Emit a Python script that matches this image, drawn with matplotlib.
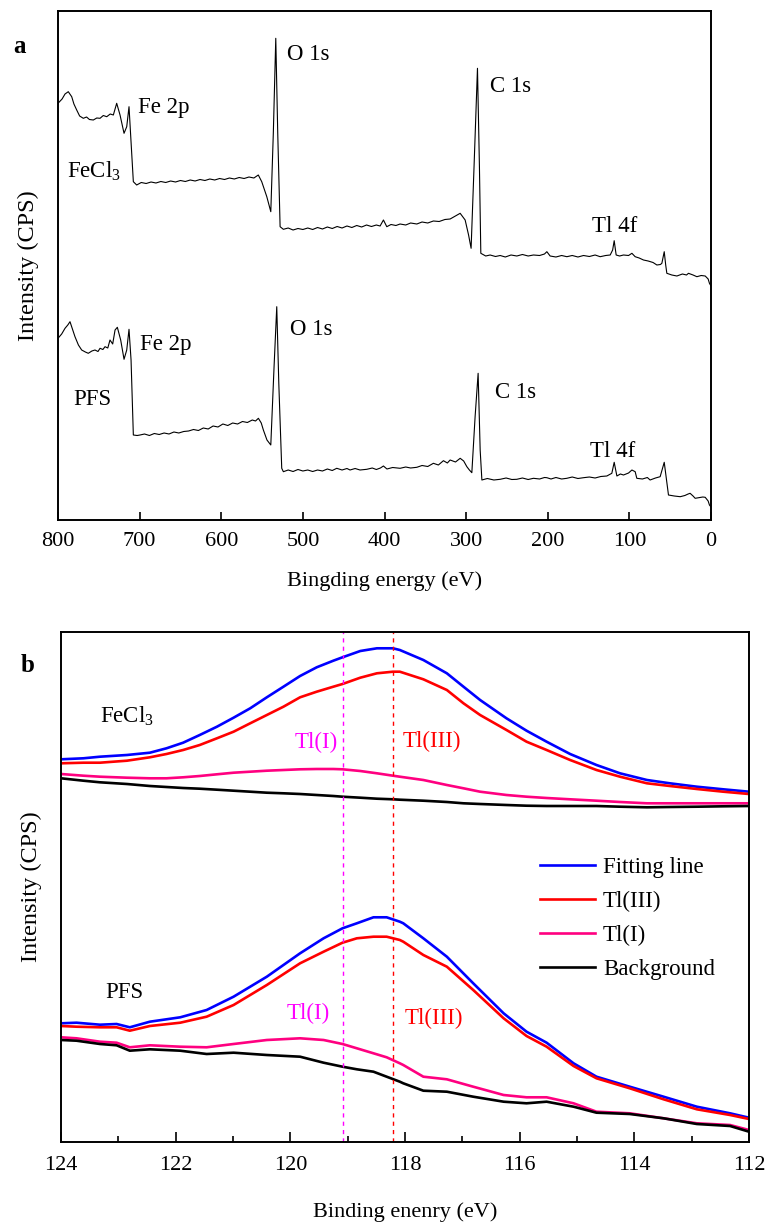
import matplotlib
matplotlib.use("Agg")
import matplotlib.pyplot as plt
from matplotlib.ticker import MultipleLocator

plt.rcParams['font.family'] = ['Liberation Serif', 'DejaVu Serif']
plt.rcParams['mathtext.fontset'] = 'custom'
plt.rcParams['mathtext.rm'] = 'Liberation Serif'
plt.rcParams['mathtext.it'] = 'Liberation Serif:italic'

# ---------------- Panel a: survey spectra ----------------
fecl3_ev = [800.0, 795.0, 791.4, 787.4, 783.2, 780.5, 777.1, 773.5, 769.0, 765.0, 761.5, 756.7,
            752.5, 748.5, 744.5, 740.3, 736.0, 732.2, 728.1, 724.0, 719.1, 715.8, 713.0, 710.5,
            707.7, 703.6, 698, 692, 686, 680, 674, 668, 662, 656, 650, 644, 638, 632, 626, 620,
            614, 608, 602, 596, 590, 584, 578, 572, 566, 560, 554.6, 550.4, 544.2, 539.3, 536.2,
            533.2, 530.8, 527.9, 523.9, 518, 512, 506, 500, 494, 488, 482, 476, 470, 464, 458,
            452, 446, 440, 434, 428, 422, 416, 410, 405.4, 401.3, 397.2, 392, 386, 380.9, 374,
            368, 360.4, 354, 347, 340.1, 333, 326, 319.6, 313, 307.3, 301.2, 297, 293.9, 290.3,
            286.1, 283.7, 282.0, 276, 270.6, 264, 258.3, 252, 245, 237.9, 231, 224, 217.5, 210,
            204, 201.1, 197.1, 190, 183, 176.6, 170, 163, 156.2, 149, 142, 135.8, 129, 123.5,
            120.5, 118.6, 116.2, 112, 107.2, 101, 96.9, 92.9, 88, 82.7, 77, 71, 66.3, 62, 60.2,
            57.3, 55.5, 54.1, 48, 41.8, 35, 30, 27.6, 22, 17.3, 12, 7.1, 3.5, 1.9, 0]
fecl3_int = [416.7, 421, 426, 428.3, 423.3, 416, 410, 404, 401.7, 403, 400.5, 400,
             402, 401.7, 404.5, 403.3, 406, 405, 416.7, 405, 386.7, 393.3, 413.3, 377,
             338.3, 335, 337.5, 336.5, 338, 337, 338.5, 337.5, 339, 338, 339.5, 338.5, 340, 339, 340.5, 339.5,
             341, 340, 341.5, 340.5, 342, 341, 342.5, 341.5, 343, 342, 345, 338.3, 323.3, 308.3, 387,
             481.7, 387, 293.3, 290.7, 292, 290, 291.5, 290.5, 292, 290.5, 292.5, 291, 293, 291.5, 293.5,
             292, 294, 292.5, 294.5, 293, 295, 293.5, 295, 294, 300, 293.3, 295.5, 294.5, 296, 295,
             297, 296, 298, 297, 299, 298.5, 300.5, 301, 304, 306.7, 300, 285, 271.7, 353.3,
             451.7, 353.3, 266.7, 264, 265, 263.5, 264.5, 263, 265, 264, 265.5, 264, 265, 264.5,
             266, 268.3, 264, 263, 264.5, 263.3, 264.5, 263, 264.5, 263.5, 265, 263.3, 264.5, 265,
             270, 279.3, 265, 264, 265, 264.5, 266.7, 263.3, 262, 260, 259, 257.5, 255, 255.5, 256.7,
             268.3, 255, 246.7, 245, 244, 246, 245, 246.7, 245, 243.3, 244.5, 244, 241, 236.7, 234]

pfs_ev = [800.0, 795.5, 791.4, 788, 785.3, 782, 779.2, 775, 771.0, 766.5, 762.9, 758.5, 754.7, 751,
          748.5, 745, 742.4, 739, 736.3, 733, 730.1, 727.3, 723.2, 719.1, 715.8, 713.0, 710.5, 707.7,
          703, 699.5, 694, 688, 682, 676, 670, 664, 658, 652, 646, 640, 634, 628, 622, 616, 610, 604,
          598, 592, 586, 580, 574, 568, 562, 558, 554.5, 551, 548.4, 544, 539.3, 535.3, 532.0, 529.5,
          525.9, 523.9, 518, 512, 506, 500, 494, 488, 482, 476, 470, 464, 458.5, 452, 446, 442.2, 436,
          430, 421.7, 415, 410, 405, 401.3, 397, 390, 380.9, 374, 368, 360.4, 354, 347, 340.1, 334,
          327.8, 323, 319.6, 313, 307.3, 303, 299.1, 296, 293.0, 289.0, 285.3, 282.8, 280.7, 274, 266,
          258.3, 251, 244, 237.9, 231, 224, 217.5, 210, 204, 201.1, 196, 190, 183, 176.6, 170, 163,
          156.2, 149, 142, 135, 127.6, 121.5, 118.6, 115.3, 111, 107.2, 101, 96.9, 92.9, 90.9, 84, 78,
          74.6, 68, 62.3, 57.3, 54.5, 52.1, 45, 37.7, 32, 28, 25.6, 22, 19.4, 14, 10, 7.1, 3.5, 1.9, 0]
pfs_int = [181.7, 186, 191.7, 195, 198.3, 190, 183.3, 175, 170, 168, 166.7, 169, 170, 168.5,
           171.7, 170.5, 173.3, 172, 180, 176, 190, 192.7, 180, 160.7, 170, 190.7, 160, 85,
           84.5, 85, 86, 84.5, 86.5, 85.5, 87, 86, 88, 87, 88.5, 89, 90.5, 89.5, 92, 91, 94, 93,
           96, 94.5, 97, 96, 98.5, 97.5, 100, 99, 101.7, 97, 90, 80, 75, 153.3, 213.3, 136.7,
           51.7, 48.3, 50, 48.5, 50.5, 49, 50, 48.5, 50, 49, 51, 49.5, 51.7, 50, 51.5, 50, 51.5,
           50, 50.7, 52, 50.5, 52, 54, 51, 52.5, 51.7, 53, 52, 52.7, 54.5, 53.5, 56.7, 55,
           59.3, 57, 60, 58, 61.7, 59, 53.3, 50, 47.3, 103.3, 146.7, 70, 40, 41.5, 40,
           40.7, 42, 40.5, 40.7, 42, 40.5, 41.7, 41, 42.5, 42.3, 41, 42.5, 41, 41.7, 43, 41.5,
           42.3, 43, 42, 43.5, 44, 46.7, 57.7, 44, 46, 45, 47, 50, 48.3, 41.7, 41, 42.5,
           40, 42, 43.3, 57.7, 40, 25, 24, 23.3, 24.5, 26, 26.7, 24, 21.7, 22.5, 23, 22.7, 19, 15, 13]

# ---------------- Panel b: Tl 4f high-resolution ----------------
fe_ev = [124.0, 123.61, 123.32, 122.85, 122.45, 122.16, 121.87, 121.58, 121.28, 120.99, 120.70,
         120.41, 120.12, 119.83, 119.54, 119.25, 119.09, 118.78, 118.49, 118.21,
         118.09, 117.68, 117.27, 116.98, 116.69, 116.23, 115.88, 115.53, 115.12, 114.66, 114.25,
         113.78, 113.38, 112.91, 112.45, 112.0]
fe_fit = [382.7, 383.7, 385.3, 387, 389.3, 393.7, 399.3, 407, 415.3, 424.3, 433.7, 444.7, 455.3,
          466, 474.7, 481.3, 484.7, 491, 493.7, 493.7,
          492, 482, 468.7, 455.3, 442, 423.7, 411.3, 400.3, 388, 377, 368.7, 362, 358.7, 355.3, 352.7, 350.3]
fe_tl3 = [378.7, 379.3, 379.3, 381.3, 384.7, 388, 392, 397, 403.7, 410.3, 418.7, 427, 435.3,
          444.7, 450.3, 455.3, 458, 464.3, 468.7, 470.3,
          470.3, 462.7, 452, 438.7, 427, 412, 400.3, 392, 382, 372, 365.3, 358.7, 356, 353, 350.3, 348]
fe_tl1 = [368, 366.3, 365.3, 364.3, 363.7, 363.7, 364.7, 366, 367.7, 369.3, 370.3, 371.3, 372,
          372.7, 373, 373, 372.7, 371, 368.7, 366.3,
          365.3, 362, 357, 353.7, 350.3, 347, 345.3, 344, 342.7, 341.3, 340, 338.7, 338.7, 338.7, 338.7, 338.7]
fe_bg = [363.7, 361.3, 359.7, 358, 356, 355, 354, 353.3, 352.3, 351.3, 350.3, 349.3, 348.7, 348,
         347, 346, 345.3, 344.3, 343.3, 342.7,
         342.3, 341.3, 340, 338.7, 338, 337, 336.3, 336, 336, 336, 335.3, 334.7, 335, 335.3, 335.7, 336]

pf_ev = [124.0, 123.73, 123.32, 123.03, 122.80, 122.45, 121.92, 121.46, 120.99, 120.41, 119.83,
         119.42, 119.09, 118.84, 118.55, 118.32, 118.09,
         118.03, 117.68, 117.27, 116.81, 116.28, 115.88, 115.53, 115.06, 114.66, 114.08, 113.49,
         112.91, 112.33, 112.0]
pf_fit = [118.7, 119.3, 117.3, 118, 114.7, 120.3, 124.7, 132, 145.3, 165.3, 188.7, 203.7, 213.7,
          218.7, 224.7, 224.7, 220.3,
          218.7, 203.7, 185.3, 158.7, 128.7, 110.3, 99.3, 78.7, 65.3, 55.3, 45.3, 35.3, 28.7, 24.3]
pf_tl3 = [116, 115.3, 114.7, 114.7, 111.3, 116, 119.3, 125.3, 137, 157, 178.7, 190.3, 199.3,
          203.7, 205.3, 205.3, 202,
          200.3, 187, 175.3, 152, 123.7, 106, 95.3, 76, 63.7, 53.7, 42.7, 32.7, 27, 23]
pf_tl1 = [104.7, 103.7, 100.3, 99.3, 94.7, 96.7, 95.3, 94.7, 98, 102, 103.7, 102, 98, 93.7,
          88.7, 84.7, 78.7,
          77, 65.3, 62.7, 55.3, 47, 44.7, 44.7, 38.7, 30.3, 28.7, 23.7, 18.7, 17, 12]
pf_bg = [102, 101.3, 98, 96.7, 91.3, 92.7, 91.3, 88, 89.3, 87, 85.3, 79.3, 75.3, 72.7, 70.3,
         65.3, 60.3,
         58.7, 51.3, 50.3, 45.3, 40.3, 38.7, 40.3, 35.3, 29.3, 28, 23.7, 18, 16, 10.3]

tl1_pos = 119.08
tl3_pos = 118.21

legend_labels = ['Fitting line', 'Tl(III)', 'Tl(I)', 'Background']
series_colors = ['#0000FF', '#FF0000', '#FF0080', '#000000']

FS = 16

fig = plt.figure(figsize=(7.69, 12.25), dpi=100)

# ---- panel a ----
axa = fig.add_axes([58/769, 1-520/1225, (711-58)/769, (520-11)/1225])
axa.plot(fecl3_ev, fecl3_int, color='black', lw=0.8)
axa.plot(pfs_ev, pfs_int, color='black', lw=0.8)
axa.set_xlim(800, 0)
axa.set_ylim(0, 509)
axa.set_xticks([800, 700, 600, 500, 400, 300, 200, 100, 0])
axa.set_yticks([])
axa.tick_params(axis='x', direction='in', length=6, width=1.2, labelsize=FS, pad=9)
for s in axa.spines.values():
    s.set_linewidth(1.4)
axa.set_xlabel('Bingding energy (eV)', fontsize=FS, labelpad=14)
axa.set_ylabel('Intensity (CPS)', fontsize=17.5, labelpad=14)

ta = dict(fontsize=16.5, va='baseline', ha='left')
axa.text(702, 407, 'Fe 2p', **ta)
axa.text(789, 342, 'FeCl$_3$', **ta)
axa.text(519.4, 460, 'O 1s', **ta)
axa.text(270.6, 428.3, 'C 1s', **ta)
axa.text(145.6, 288.3, 'Tl 4f', **ta)
axa.text(699.5, 170, 'Fe 2p', **ta)
axa.text(781, 115, 'PFS', **ta)
axa.text(515.7, 185, 'O 1s', **ta)
axa.text(264.5, 121.7, 'C 1s', **ta)
axa.text(148, 63.3, 'Tl 4f', **ta)
fig.text(19/769, 1-53/1225, 'a', fontsize=18, fontweight='bold', ha='center', va='baseline')

# ---- panel b ----
axb = fig.add_axes([61/769, 1-1142/1225, (749-61)/769, (1142-632)/1225])
for y, c, lab in zip([fe_fit, fe_tl3, fe_tl1, fe_bg], series_colors, legend_labels):
    axb.plot(fe_ev, y, color=c, lw=1.9, label=lab, solid_joinstyle='round')
for y, c in zip([pf_fit, pf_tl3, pf_tl1, pf_bg], series_colors):
    axb.plot(pf_ev, y, color=c, lw=1.9, solid_joinstyle='round')
axb.axvline(tl1_pos, color='#FF00FF', lw=1.0, ls=(0, (3, 3)))
axb.axvline(tl3_pos, color='#FF0000', lw=1.0, ls=(0, (3, 3)))
axb.set_xlim(124, 112)
axb.set_ylim(0, 510)
axb.xaxis.set_major_locator(MultipleLocator(2))
axb.xaxis.set_minor_locator(MultipleLocator(1))
axb.set_yticks([])
axb.tick_params(axis='x', which='major', direction='in', length=7, width=1.2, labelsize=FS, pad=10)
axb.tick_params(axis='x', which='minor', direction='in', length=4, width=1.2)
for s in axb.spines.values():
    s.set_linewidth(1.4)
axb.set_xlabel('Binding enenry (eV)', fontsize=FS, labelpad=20)
axb.set_ylabel('Intensity (CPS)', fontsize=17.5, labelpad=14)

tb = dict(fontsize=16.5, ha='left')
axb.text(123.32, 419.3, 'FeCl$_3$', va='baseline', **tb)
axb.text(119.92, 399.5, 'Tl(I)', va='center', color='#FF00FF', **tb)
axb.text(118.05, 400.3, 'Tl(III)', va='center', color='#FF0000', **tb)
axb.text(123.23, 149.5, 'PFS', va='center', **tb)
axb.text(120.06, 128.7, 'Tl(I)', va='center', color='#FF00FF', **tb)
axb.text(118.0, 124, 'Tl(III)', va='center', color='#FF0000', **tb)
fig.text(28/769, 1-672/1225, 'b', fontsize=18, fontweight='bold', ha='center', va='baseline')

axb.legend(loc='upper left', bbox_to_anchor=(0.696, 0.558), frameon=False, fontsize=16.5,
           handlelength=2.4, handletextpad=0.35, labelspacing=0.55, borderpad=0, borderaxespad=0)

fig.savefig('out.png', dpi=100)
